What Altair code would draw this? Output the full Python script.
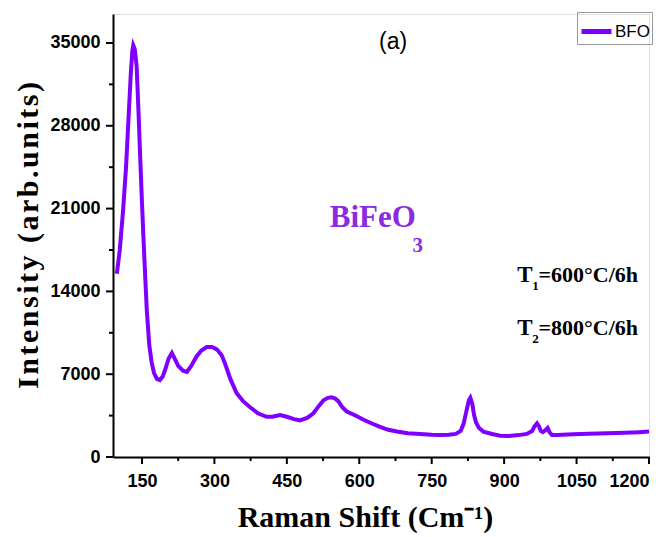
import altair as alt
import pandas as pd

# ---- data ----
raman_shift = [98, 104, 111, 117, 122, 127, 130, 132, 135, 139, 143, 146, 150, 153, 157, 160, 165, 170,
               175, 181, 187, 193, 199, 205, 212, 218, 225, 235, 243, 252, 263, 273, 284, 295, 305, 315,
               322, 333, 346, 360, 374, 390, 408, 420, 436, 450, 465, 477, 492, 505, 516, 526, 535, 543,
               550, 557, 565, 574, 590, 609, 625, 643, 660, 678, 700, 726, 750, 767, 785, 800, 810, 816,
               822, 827, 830, 834, 838, 842, 848, 857, 875, 892, 910, 930, 947, 958, 963, 968, 972, 976,
               980, 985, 990, 994, 999, 1010, 1043, 1075, 1113, 1150, 1180, 1200]
intensity = [15500, 17500, 20900, 24500, 28500, 32500, 34300, 34800, 34500, 33000, 29000, 25700, 21500,
             18600, 15000, 12400, 9500, 8000, 7100, 6600, 6500, 6800, 7500, 8300, 8800, 8300, 7700, 7300,
             7200, 7700, 8500, 9000, 9300, 9300, 9100, 8600, 7900, 6600, 5400, 4700, 4200, 3700, 3400,
             3400, 3550, 3400, 3200, 3100, 3300, 3700, 4300, 4800, 5000, 5050, 4950, 4700, 4200, 3850,
             3550, 3150, 2850, 2550, 2300, 2150, 2000, 1950, 1880, 1850, 1880, 1950, 2200, 2800, 3900,
             4800, 5000, 4500, 3500, 2900, 2450, 2150, 1950, 1800, 1780, 1850, 1950, 2200, 2600, 2850,
             2600, 2200, 2100, 2250, 2450, 2100, 1850, 1850, 1920, 1960, 2000, 2050, 2100, 2150]
series_name = ["BFO"] * len(raman_shift)

x_ticks = [150, 300, 450, 600, 750, 900, 1050, 1200]
x_minor = [225, 375, 525, 675, 825, 975, 1125]
y_ticks = [0, 7000, 14000, 21000, 28000, 35000]
y_minor = [3500, 10500, 17500, 24500, 31500]

W, H = 536, 443
LINE_COLOR = "#8000ff"
TEXT_PURPLE = "#8a2be2"
NUM_FONT = "Liberation Sans Narrow, Arial Narrow, Liberation Sans"
SERIF = "Liberation Serif, Times New Roman, serif"

df = pd.DataFrame({"shift": raman_shift, "intensity": intensity, "series": series_name})

xs = alt.Scale(domain=[90, 1200], nice=False, zero=False)
ys = alt.Scale(domain=[0, 37450], nice=False, zero=False)

y_title = "\u200a".join(list("Intensity (arb.units)"))

x_axis = alt.Axis(
    values=x_ticks, title="Raman Shift (Cm\u207b\u00b9)", grid=False, format="d",
    labelFont=NUM_FONT, labelFontSize=18, labelFontWeight="bold", labelColor="black",
    ticks=False, labelPadding=15,
    domainColor="black", domainWidth=2,
    titleFont=SERIF, titleFontSize=30, titleFontWeight="bold", titleColor="black",
    titleX=252, titleY=60, titleBaseline="middle", titleAlign="center")
y_axis = alt.Axis(
    values=y_ticks, title=y_title, grid=False, format="d",
    labelFont=NUM_FONT, labelFontSize=18, labelFontWeight="bold", labelColor="black",
    ticks=False, labelPadding=13,
    domainColor="black", domainWidth=2,
    titleFont=SERIF, titleFontSize=30, titleFontWeight="bold", titleColor="black",
    titleX=-85, titleY=221, titleAngle=-90, titleBaseline="middle", titleAlign="center")

line = alt.Chart(df).mark_line(strokeWidth=4, clip=True).encode(
    x=alt.X("shift:Q", scale=xs, axis=x_axis),
    y=alt.Y("intensity:Q", scale=ys, axis=y_axis),
    color=alt.Color("series:N", scale=alt.Scale(domain=["BFO"], range=[LINE_COLOR]),
                    legend=alt.Legend(title=None, orient="none", legendX=464, legendY=-2,
                                      symbolType="stroke", symbolSize=900, symbolStrokeWidth=5,
                                      labelFont=NUM_FONT, labelFontSize=17, labelColor="black",
                                      strokeColor="#999999", padding=2, labelOffset=1)),
)


def x_tick_rules(vals, length):
    return alt.Chart(pd.DataFrame({"shift": vals})).mark_rule(
        color="black", strokeWidth=2, clip=False).encode(
        x=alt.X("shift:Q", scale=xs, axis=x_axis), y=alt.value(H), y2=alt.value(H + length))


def y_tick_rules(vals, length):
    return alt.Chart(pd.DataFrame({"intensity": vals})).mark_rule(
        color="black", strokeWidth=2, clip=False).encode(
        y=alt.Y("intensity:Q", scale=ys, axis=y_axis), x=alt.value(0), x2=alt.value(-length))


def label(text, xv, yv, **kw):
    d = pd.DataFrame({"t": [text], "shift": [xv], "intensity": [yv]})
    return alt.Chart(d).mark_text(**kw).encode(
        x=alt.X("shift:Q", scale=xs, axis=x_axis), y=alt.Y("intensity:Q", scale=ys, axis=y_axis), text="t:N")


panel = label("(a)", 670, 35100, font="Liberation Sans, Arial", fontSize=23, align="center",
              baseline="middle", color="black")
bfo = label("BiFeO", 539, 19444, font=SERIF, fontSize=31, fontWeight="bold", align="left",
            baseline="alphabetic", color=TEXT_PURPLE)
bfo3 = label("3", 710, 17330, font=SERIF, fontSize=21, fontWeight="bold", align="left",
             baseline="alphabetic", color=TEXT_PURPLE)

t_kw = dict(font=SERIF, fontWeight="bold", align="left", baseline="alphabetic", color="black")
t1 = label("T", 927, 14795, fontSize=23, **t_kw)
t1s = label("1", 958, 14118, fontSize=13, **t_kw)
t1r = label("=600\u00b0C/6h", 971, 14795, fontSize=22, **t_kw)
t2 = label("T", 927, 10314, fontSize=23, **t_kw)
t2s = label("2", 958, 9637, fontSize=13, **t_kw)
t2r = label("=800\u00b0C/6h", 971, 10314, fontSize=22, **t_kw)

chart = alt.layer(
    line,
    x_tick_rules(x_ticks, 7), x_tick_rules(x_minor, 4),
    y_tick_rules(y_ticks, 7), y_tick_rules(y_minor, 4),
    panel, bfo, bfo3, t1, t1s, t1r, t2, t2s, t2r,
).properties(
    width=W, height=H,
    autosize=alt.AutoSizeParams(type="none"),
    padding={"left": 113, "top": 14, "right": 19, "bottom": 80},
).configure_view(stroke="black", strokeWidth=2).configure(background="white")

chart.save("out.html", embed_options={"renderer": "svg", "actions": False})
